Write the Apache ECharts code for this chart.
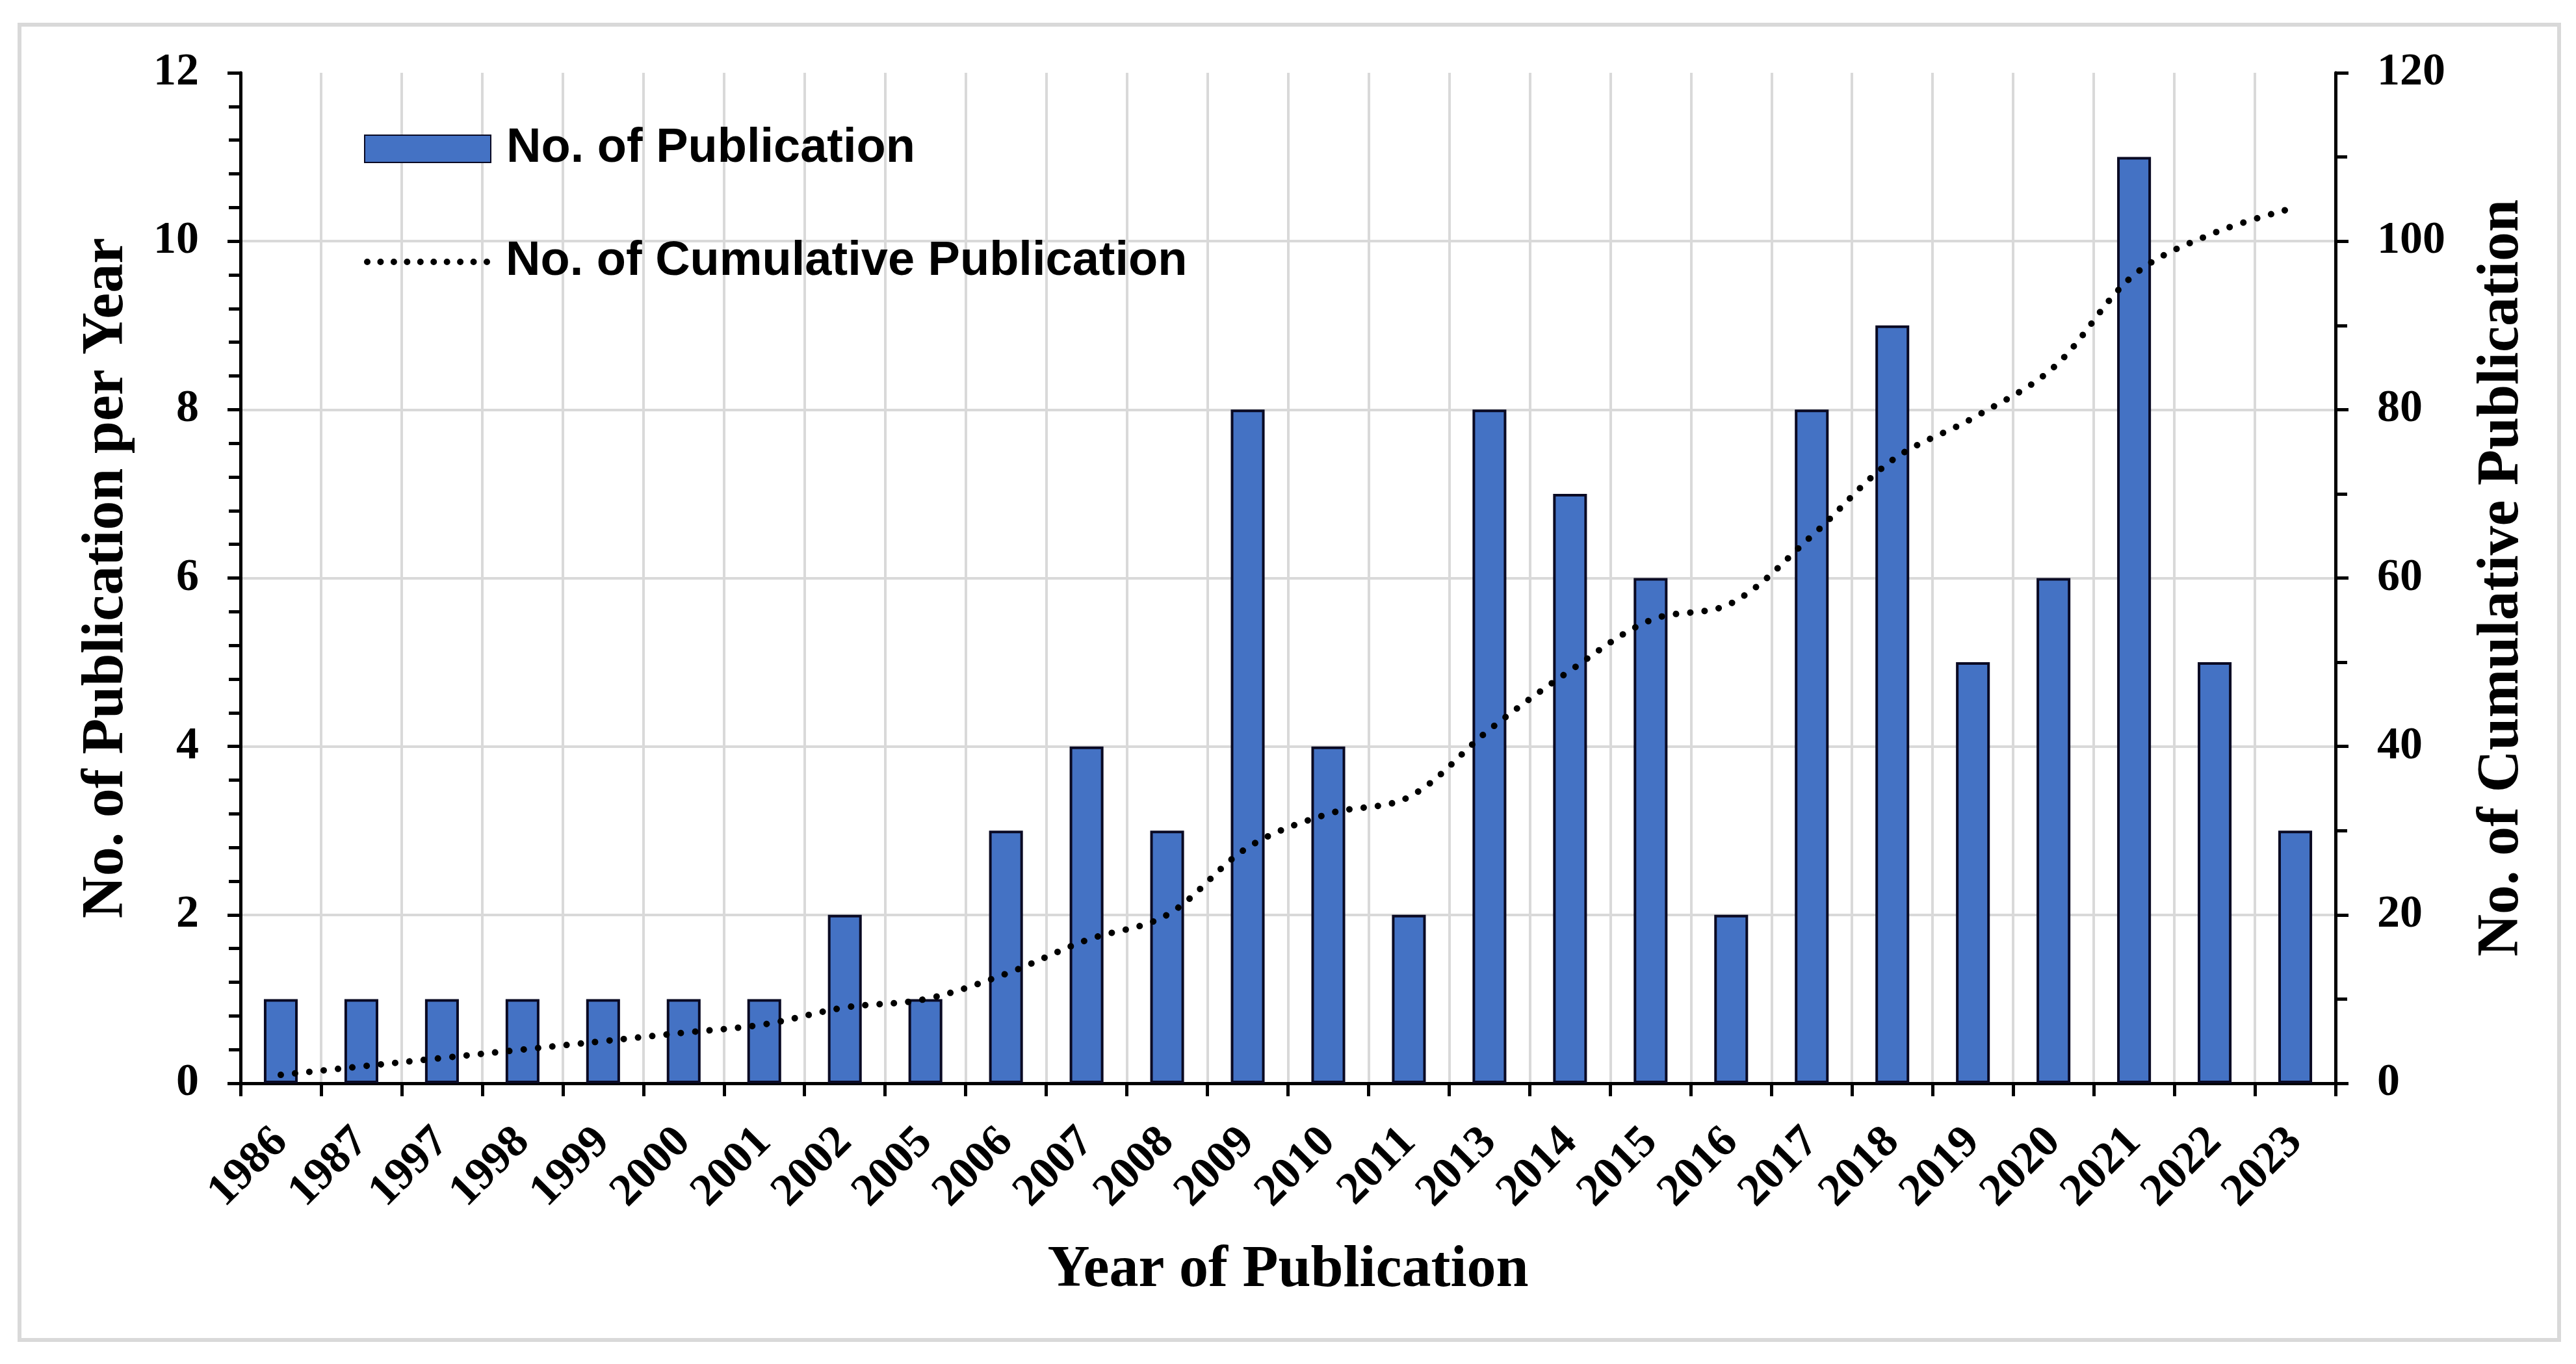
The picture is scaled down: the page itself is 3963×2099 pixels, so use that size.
<!DOCTYPE html>
<html>
<head>
<meta charset="utf-8">
<script src="https://cdn.jsdelivr.net/npm/echarts@6/dist/echarts.min.js"></script>
<style>
html,body{margin:0;padding:0;background:#fff;}
#chart{width:3963px;height:2099px;}
</style>
</head>
<body>
<div id="chart"></div>
<script>
const categories = ['1986','1987','1997','1998','1999','2000','2001','2002','2005','2006','2007','2008','2009','2010','2011','2013','2014','2015','2016','2017','2018','2019','2020','2021','2022','2023'];
const publications = [1,1,1,1,1,1,1,2,1,3,4,3,8,4,2,8,7,6,2,8,9,5,6,11,5,3];
const cumulative = [1,2,3,4,5,6,7,9,10,13,17,20,28,32,34,42,49,55,57,65,74,79,85,96,101,104];
const leftAxis = {min: 0, max: 12, interval: 2};
const rightAxis = {min: 0, max: 120, interval: 20};
const barName = 'No. of Publication';
const lineName = 'No. of Cumulative Publication';
const xTitle = 'Year of Publication';
const leftTitle = 'No. of Publication per Year';
const rightTitle = 'No. of Cumulative Publication';

const serif = 'Liberation Serif';
const sans = 'Liberation Sans';
const gridGray = '#d9d9d9';

// dotted legend icon: a row of round dots
function dotRowPath(count, width, d) {
  const step = (width - d) / (count - 1);
  const r = d / 2;
  let p = '';
  for (let i = 0; i < count; i++) {
    const x0 = i * step;
    p += 'M' + x0 + ',' + r + 'a' + r + ',' + r + ' 0 1,0 ' + d + ',0a' + r + ',' + r + ' 0 1,0 ' + (-d) + ',0Z';
  }
  return 'path://' + p;
}

const legendText = {fontFamily: sans, fontWeight: 'bold', fontSize: 74, color: '#000', padding: [0, 0, 0, 19]};

const chart = echarts.init(document.getElementById('chart'), null, {renderer: 'canvas'});
chart.setOption({
  backgroundColor: '#fff',
  animation: false,
  graphic: [{
    type: 'rect', z: -10,
    shape: {x: 30, y: 38, width: 3907, height: 2024},
    style: {fill: 'none', stroke: '#d9d9d9', lineWidth: 6}
  }],
  grid: {left: 370, right: 370, top: 112, bottom: 432, containLabel: false},
  legend: [{
    left: 560, top: 192, padding: 0,
    itemWidth: 194, itemHeight: 42,
    textStyle: legendText,
    data: [{name: barName, icon: 'rect'}]
  }, {
    left: 560, top: 366, padding: 0,
    itemWidth: 194, itemHeight: 10,
    textStyle: legendText,
    data: [{name: lineName, icon: dotRowPath(10, 194, 10), itemStyle: {color: '#000', borderWidth: 0}}]
  }],
  xAxis: [{
    type: 'category', position: 'bottom', data: categories, z: 0,
    axisLine: {show: true, lineStyle: {color: '#000', width: 5}},
    axisTick: {show: true, interval: 0, length: 20, inside: false, lineStyle: {color: '#000', width: 5}},
    axisLabel: {interval: 0, rotate: 45, margin: 80, fontFamily: serif, fontWeight: 'bold', fontSize: 70, color: '#000'},
    splitLine: {show: true, interval: 0, lineStyle: {color: gridGray, width: 4}},
    name: xTitle, nameLocation: 'middle', nameGap: 244,
    nameTextStyle: {fontFamily: serif, fontWeight: 'bold', fontSize: 90, color: '#000'}
  }, {
    type: 'category', position: 'top', data: categories, z: 1,
    axisLine: {show: true, lineStyle: {color: '#000', width: 5}},
    axisTick: {show: false}, axisLabel: {show: false}, splitLine: {show: false}
  }],
  yAxis: [{
    type: 'value', position: 'left', min: leftAxis.min, max: leftAxis.max, interval: leftAxis.interval, z: 1,
    axisLine: {show: true, lineStyle: {color: '#000', width: 5}},
    axisTick: {show: true, length: 20, inside: false, lineStyle: {color: '#000', width: 5}},
    minorTick: {show: true, splitNumber: 5, length: 18, lineStyle: {color: '#000', width: 5}},
    axisLabel: {margin: 64, fontFamily: serif, fontWeight: 'bold', fontSize: 70, color: '#000'},
    splitLine: {show: true, showMinLine: false, showMaxLine: false, lineStyle: {color: gridGray, width: 4}},
    name: leftTitle, nameLocation: 'middle', nameGap: 160, nameRotate: 90,
    nameTextStyle: {fontFamily: serif, fontWeight: 'bold', fontSize: 90, color: '#000'}
  }, {
    type: 'value', position: 'right', min: rightAxis.min, max: rightAxis.max, interval: rightAxis.interval, z: 1,
    axisLine: {show: true, lineStyle: {color: '#000', width: 5}},
    axisTick: {show: true, length: 20, inside: false, lineStyle: {color: '#000', width: 5}},
    minorTick: {show: true, splitNumber: 2, length: 18, lineStyle: {color: '#000', width: 5}},
    axisLabel: {margin: 64, fontFamily: serif, fontWeight: 'bold', fontSize: 70, color: '#000'},
    splitLine: {show: false},
    name: rightTitle, nameLocation: 'middle', nameGap: 212, nameRotate: 90,
    nameTextStyle: {fontFamily: serif, fontWeight: 'bold', fontSize: 90, color: '#000'}
  }],
  series: [{
    name: barName, type: 'bar', xAxisIndex: 0, yAxisIndex: 0, data: publications,
    barWidth: '42%',
    itemStyle: {color: '#4472C4', borderColor: '#0a0a23', borderWidth: 4}
  }, {
    name: lineName, type: 'line', xAxisIndex: 0, yAxisIndex: 1, data: cumulative,
    symbol: 'none', smooth: 0.35, z: 3,
    lineStyle: {color: '#000', width: 10, type: [0.1, 22], cap: 'round'},
    itemStyle: {color: '#000'}
  }]
});
</script>
</body>
</html>
